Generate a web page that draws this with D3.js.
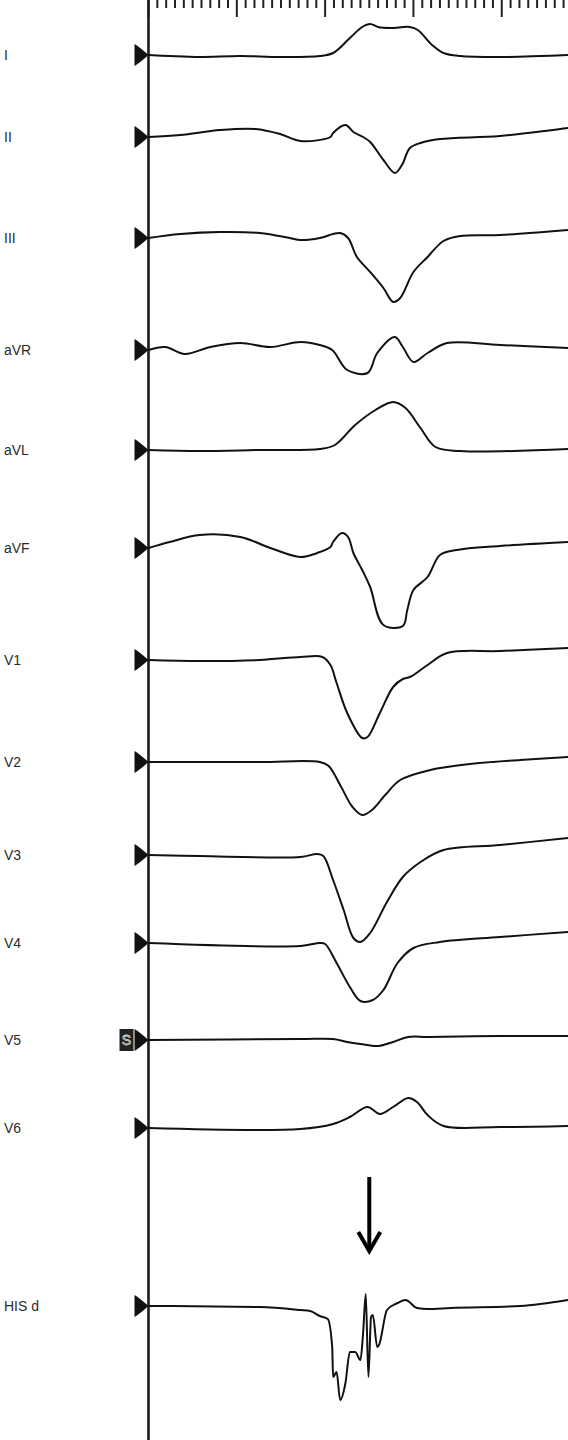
<!DOCTYPE html>
<html><head><meta charset="utf-8">
<script src="https://cdn.jsdelivr.net/npm/d3@7"></script>
<style>html,body{margin:0;padding:0;background:#fff;}svg{display:block;}</style>
</head><body>
<script>
// ---- data: [time ms, amplitude mV] ----
const leadNames = ["I","II","III","aVR","aVL","aVF","V1","V2","V3","V4","V5","V6","HIS d"];
const leadI = [[0,0],[24,-0.01],[58,-0.02],[104,-0.01],[149,-0.02],[194,-0.01],[209,0.02],[228,0.17],[242,0.28],[251,0.31],[260,0.28],[274,0.27],[296,0.28],[305,0.25],[321,0.10],[334,0.02],[353,-0.01],[398,-0.02],[444,-0.01],[475,0]];
const leadII = [[0,0],[36,0.02],[81,0.07],[121,0.08],[149,0.03],[172,-0.04],[206,0],[209,0.04],[223,0.12],[232,0.05],[243,0],[251,-0.05],[266,-0.23],[279,-0.36],[287,-0.28],[296,-0.11],[308,-0.06],[330,-0.02],[398,0.01],[475,0.09]];
const leadIII = [[0,0],[36,0.04],[81,0.06],[126,0.05],[160,0],[172,-0.02],[194,0],[209,0.04],[217,0.05],[226,0],[236,-0.19],[251,-0.34],[266,-0.50],[277,-0.64],[285,-0.60],[300,-0.34],[316,-0.19],[334,-0.03],[353,0.02],[398,0.03],[475,0.08]];
const leadAVR = [[0,0],[19,0.03],[41,-0.04],[70,0.03],[104,0.07],[138,0.03],[172,0.08],[194,0.05],[208,0],[225,-0.20],[248,-0.23],[259,-0.03],[279,0.13],[288,0.03],[300,-0.12],[316,-0.03],[338,0.07],[398,0.05],[475,0.02]];
const leadAVL = [[0,0],[58,-0.01],[126,0],[194,0.01],[211,0.05],[234,0.25],[257,0.40],[277,0.48],[291,0.42],[308,0.22],[325,0.03],[353,-0.01],[475,0.01]];
const leadAVF = [[0,0],[24,0.06],[58,0.13],[104,0.11],[138,0],[172,-0.09],[191,-0.05],[206,0.01],[209,0.06],[219,0.15],[226,0.11],[232,-0.05],[242,-0.22],[251,-0.39],[266,-0.77],[288,-0.78],[293,-0.62],[300,-0.42],[316,-0.29],[330,-0.07],[349,-0.02],[398,0.02],[475,0.06]];
const leadV1 = [[0,0],[58,-0.01],[126,0],[172,0.03],[197,0.03],[206,-0.05],[213,-0.23],[225,-0.53],[242,-0.78],[248,-0.77],[262,-0.53],[277,-0.27],[288,-0.19],[296,-0.17],[316,-0.05],[338,0.07],[398,0.09],[475,0.12]];
const leadV2 = [[0,0],[126,0],[194,0],[204,-0.04],[217,-0.23],[231,-0.45],[242,-0.53],[253,-0.48],[268,-0.33],[285,-0.18],[319,-0.08],[364,-0.02],[421,0.02],[475,0.05]];
const leadV3 = [[0,0],[58,-0.01],[172,-0.02],[191,0.01],[198,-0.01],[209,-0.25],[221,-0.55],[232,-0.83],[240,-0.87],[251,-0.78],[270,-0.47],[288,-0.22],[308,-0.07],[334,0.05],[398,0.10],[475,0.17]];
const leadV4 = [[0,0],[172,-0.03],[194,0],[200,-0.01],[213,-0.20],[228,-0.44],[240,-0.58],[254,-0.57],[266,-0.47],[282,-0.20],[300,-0.05],[330,0.01],[398,0.06],[475,0.11]];
const leadV5 = [[0,0],[172,0.01],[209,0.01],[225,-0.02],[240,-0.04],[260,-0.06],[277,-0.02],[294,0.03],[317,0.03],[398,0.04],[475,0.04]];
const leadV6 = [[0,0],[172,-0.01],[209,0.04],[228,0.11],[248,0.21],[262,0.14],[277,0.21],[294,0.30],[304,0.26],[316,0.13],[334,0.02],[398,0.01],[475,0.02]];
const leadHIS = [[0,0],[126,-0.01],[172,-0.04],[183,-0.05],[194,-0.10],[203,-0.13],[208,-0.41],[209,-0.71],[213,-0.66],[217,-0.94],[223,-0.77],[228,-0.46],[234,-0.46],[240,-0.54],[243,-0.27],[246,0.12],[249,-0.71],[252,-0.11],[254,-0.09],[259,-0.41],[261,-0.39],[270,-0.04],[282,0.03],[291,0.06],[304,-0.02],[316,-0.03],[342,-0.02],[421,0],[475,0.06]];
const series = [leadI,leadII,leadIII,leadAVR,leadAVL,leadAVF,leadV1,leadV2,leadV3,leadV4,leadV5,leadV6,leadHIS];
const minorTicks = d3.range(0, 480, 10);   // ms
const arrowTime = 250; // ms, annotation
const sourceLead = "V5"; // lead marked with "S"

// ---- layout ----
const W = 568, H = 1440;
const rowY = [55,137,238,350,450,548,660,762,855,943,1040,1128,1306];
const x = d3.scaleLinear().domain([0, 475]).range([148.5, 568]);
const amp = d3.scaleLinear().domain([0, 1]).range([0, -100]); // 1 mV = 100px

const svg = d3.select("body").append("svg").attr("width", W).attr("height", H);

// ruler ticks
svg.append("g").selectAll("line").data(minorTicks).join("line")
  .attr("x1", d => x(d)).attr("x2", d => x(d))
  .attr("y1", 0).attr("y2", d => (d % 100 === 0) ? 17 : 8)
  .attr("stroke", "#222").attr("stroke-width", 2);

// vertical axis line
svg.append("line").attr("x1", x(0)).attr("x2", x(0)).attr("y1", 0).attr("y2", H)
  .attr("stroke", "#1a1a1a").attr("stroke-width", 2.6);

const smooth = d3.line().x(d => x(d[0])).y(d => d[1]).curve(d3.curveCatmullRom.alpha(0.5));
const sharp = d3.line().x(d => x(d[0])).y(d => d[1]).curve(d3.curveMonotoneX);

leadNames.forEach((name, i) => {
  const by = rowY[i];
  const g = svg.append("g");
  g.append("text").attr("x", 4).attr("y", by + 5)
    .attr("font-family", "Liberation Sans, Arial, sans-serif").attr("font-size", 14)
    .attr("fill", "#2b2b2b").text(name);
  // marker triangle
  g.append("path")
    .attr("d", `M${x(0)-14},${by-11} Q${x(0)-9},${by-8} ${x(0)},${by} Q${x(0)-9},${by+8} ${x(0)-14},${by+11} Z`)
    .attr("fill", "#111");
  if (name === sourceLead) {
    g.append("rect").attr("x", x(0)-29).attr("y", by-11).attr("width", 14).attr("height", 22).attr("fill", "#222");
    g.append("text").attr("x", x(0)-22).attr("y", by+5).attr("text-anchor", "middle")
      .attr("font-family", "Liberation Sans, Arial, sans-serif").attr("font-size", 14)
      .attr("fill", "none").attr("stroke", "#ddd").attr("stroke-width", 0.8).text("S");
  }
  const gen = name === "HIS d" ? sharp : smooth;
  g.append("path").datum(series[i].map(d => [d[0], by + amp(d[1])]))
    .attr("d", gen).attr("fill", "none").attr("stroke", "#111")
    .attr("stroke-width", 2).attr("stroke-linejoin", "round");
});

// arrow annotation
const ax = x(arrowTime);
svg.append("line").attr("x1", ax).attr("x2", ax).attr("y1", 1177).attr("y2", 1248)
  .attr("stroke", "#000").attr("stroke-width", 4);
svg.append("path").attr("d", `M${ax-11},${1232} L${ax},${1251} L${ax+11},${1232}`)
  .attr("fill", "none").attr("stroke", "#000").attr("stroke-width", 4).attr("stroke-linejoin", "miter");
</script>
</body></html>
